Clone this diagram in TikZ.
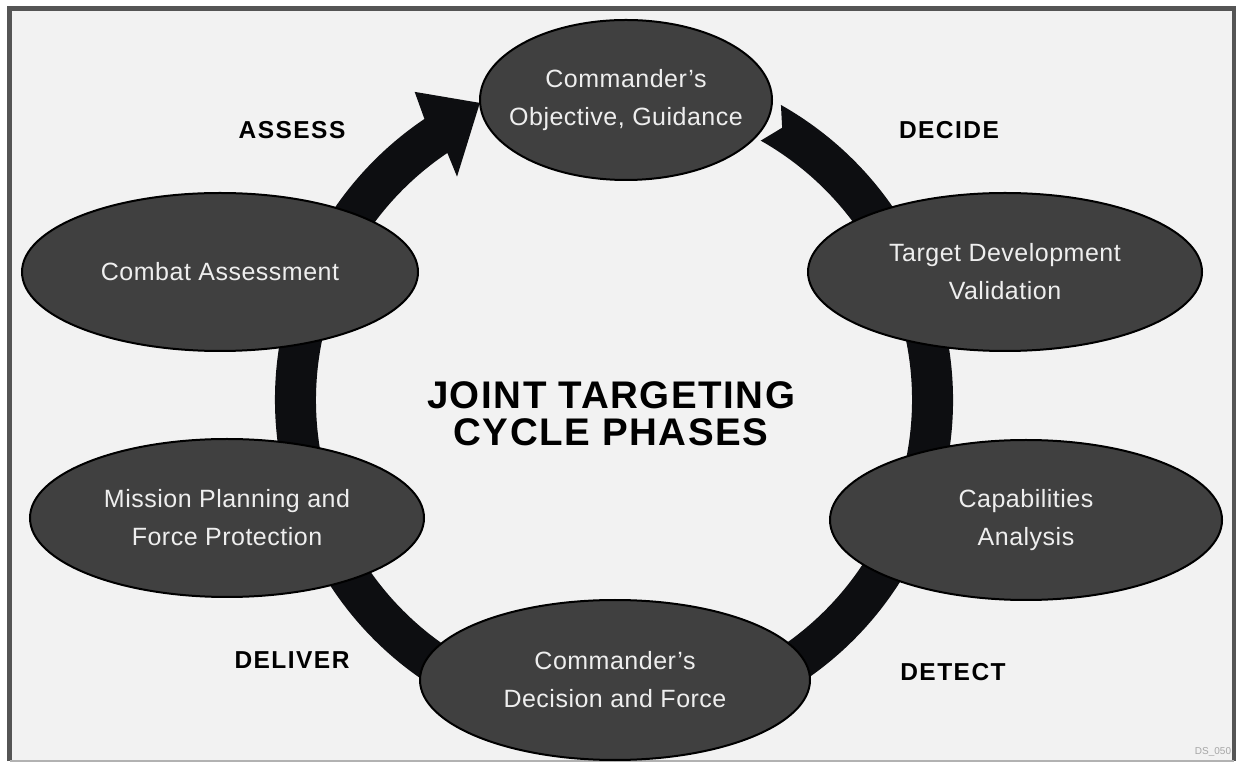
\documentclass[tikz,border=0pt]{standalone}
\usepackage{fontspec}
\setmainfont{Liberation Sans}
\usetikzlibrary{shapes.geometric}
\definecolor{bgc}{HTML}{F2F2F2}
\definecolor{framec}{HTML}{555555}
\definecolor{ellc}{HTML}{404040}
\definecolor{arrc}{HTML}{0D0E11}
\definecolor{txtc}{HTML}{EEEEEE}
\tikzset{
  phase/.style={ellipse, draw=black, line width=2pt, fill=ellc, inner sep=0pt},
  phasetext/.style={text=txtc, align=center, font=\addfontfeature{LetterSpace=2}\fontsize{25}{38}\selectfont},
  stage/.style={font=\addfontfeature{LetterSpace=6}\fontsize{24.5}{28}\bfseries\selectfont, text=black},
}
\begin{document}
\begin{tikzpicture}[x=1pt,y=1pt]
\useasboundingbox (0,0) rectangle (1239,763);
\fill[white] (0,0) rectangle (1239,763);
\fill[bgc] (9.5,2) rectangle (1234,754.5);
\draw[framec, line width=4.5pt] (9.5,2) -- (9.5,754.5) -- (1234,754.5) -- (1234,2);
\draw[gray!60, line width=1.5pt] (9.5,2) -- (1234,2);
% circular arrow
\fill[arrc, shift={(614,363)}] (60.5:339) arc[start angle=60.5, end angle=-236, radius=339]
  -- (-237.1:367) -- (-245.7:326) -- (-234.9:273) -- (-236:298)
  arc[start angle=-236, end angle=60.5, radius=298] -- (58.3:320) -- cycle;
% phases
\node[phase, minimum width=292pt, minimum height=160pt] (obj) at (626,663) {};
\node[phasetext] (objt) at (obj) {Commander's\\Objective, Guidance};
\node[phase, minimum width=394pt, minimum height=158pt] (tdv) at (1005,491) {};
\node[phasetext] (tdvt) at (tdv) {Target Development\\Validation};
\node[phase, minimum width=392pt, minimum height=160pt] (cap) at (1026,243) {};
\node[phasetext] (capt) at (cap) {Capabilities\\Analysis};
\node[phase, minimum width=390pt, minimum height=160pt] (dec) at (615,83) {};
\node[phasetext] (dect) at (dec) {Commander's\\Decision and Force};
\node[phase, minimum width=394pt, minimum height=158pt] (mpf) at (227,245) {};
\node[phasetext] (mpft) at (mpf) {Mission Planning and\\Force Protection};
\node[phase, minimum width=396pt, minimum height=158pt] (cba) at (220,491) {};
\node[phasetext] (cbat) at (cba) {Combat Assessment};
% stage labels
\node[stage] (assess) at (292,633) {ASSESS};
\node[stage] (decide) at (949,633) {DECIDE};
\node[stage] (deliver) at (292,103) {DELIVER};
\node[stage] (detect) at (953,91) {DETECT};
% title
\node[align=center, font=\addfontfeature{LetterSpace=4}\fontsize{38.5}{37}\bfseries\selectfont] (title) at (611,349) {JOINT TARGETING\\CYCLE PHASES};
\node[text=gray!70, font=\fontsize{10}{12}\selectfont] (ds) at (1213,11) {DS\_050};
\end{tikzpicture}
\end{document}
